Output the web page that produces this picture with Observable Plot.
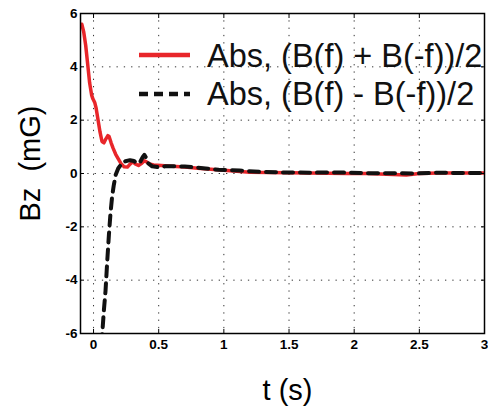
<!DOCTYPE html>
<html>
<head>
<meta charset="utf-8">
<script src="https://cdn.jsdelivr.net/npm/d3@7"></script>
<script src="https://cdn.jsdelivr.net/npm/@observablehq/plot@0.6"></script>
<style>
  html, body { margin: 0; padding: 0; background: #fff; }
  #chart { width: 488px; height: 408px; }
  svg { font-family: "Liberation Sans", Arial, sans-serif; }
  g[aria-label="x-axis tick label"] text, g[aria-label="y-axis tick label"] text { font-weight: bold !important; font-size: 13.5px !important; }
</style>
</head>
<body>
<div id="chart"></div>
<script>
// ---- data ----
const seriesNames = ["Abs, (B(f) + B(-f))/2", "Abs, (B(f) - B(-f))/2"];
const xLabel = "t (s)";
const yLabel = "Bz\u00a0\u00a0(mG)";
const xTicks = [0, 0.5, 1, 1.5, 2, 2.5, 3];
const yTicks = [-6, -4, -2, 0, 2, 4, 6];

const tPlus = [-0.09, -0.075, -0.06, -0.045, -0.03, -0.015, -0.005, 0.01, 0.02, 0.035, 0.05, 0.065, 0.08, 0.095, 0.11, 0.12, 0.135, 0.15, 0.17, 0.19, 0.21, 0.235, 0.26, 0.28, 0.3, 0.32, 0.345, 0.37, 0.39, 0.405, 0.43, 0.46, 0.52, 0.6, 0.7, 0.8, 0.9, 1.0, 1.1, 1.2, 1.35, 1.5, 1.65, 1.8, 1.95, 2.1, 2.25, 2.4, 2.5, 2.65, 2.8, 3.0];
const bPlus = [5.6, 5.3, 4.8, 4.1, 3.4, 2.95, 2.8, 2.65, 2.45, 2.0, 1.55, 1.2, 1.15, 1.3, 1.42, 1.38, 1.15, 0.95, 0.72, 0.55, 0.38, 0.25, 0.24, 0.35, 0.44, 0.36, 0.3, 0.38, 0.48, 0.44, 0.36, 0.32, 0.3, 0.27, 0.24, 0.2, 0.16, 0.12, 0.08, 0.05, 0.04, 0.03, 0.02, 0.01, 0.0, 0.0, -0.03, -0.06, 0.0, 0.02, 0.02, 0.02];

const tMinus = [0.06, 0.067, 0.08, 0.092, 0.105, 0.118, 0.13, 0.143, 0.155, 0.17, 0.19, 0.215, 0.245, 0.28, 0.31, 0.335, 0.36, 0.378, 0.39, 0.405, 0.42, 0.45, 0.49, 0.55, 0.63, 0.7, 0.78, 0.88, 0.96, 1.12, 1.28, 1.46, 1.66, 1.81, 1.97, 2.14, 2.3, 2.46, 2.63, 2.8, 2.96, 3.0];
const bMinus = [-6.4, -6.0, -5.1, -4.4, -3.3, -2.3, -1.5, -0.85, -0.45, -0.05, 0.2, 0.36, 0.46, 0.5, 0.47, 0.38, 0.45, 0.62, 0.7, 0.58, 0.38, 0.27, 0.24, 0.27, 0.27, 0.26, 0.23, 0.18, 0.14, 0.11, 0.06, 0.04, 0.03, 0.04, 0.03, 0.01, 0.01, 0.0, 0.03, 0.02, 0.02, 0.02];

const plusData = tPlus.map((t, i) => ({t, b: bPlus[i]}));
const minusData = tMinus.map((t, i) => ({t, b: bMinus[i]}));

const chart = Plot.plot({
  width: 488,
  height: 408,
  marginLeft: 80,
  marginRight: 4,
  marginTop: 13,
  marginBottom: 75,
  style: {fontFamily: "'Liberation Sans', Arial, sans-serif", background: "#fff", color: "#000"},
  x: {domain: [-0.1, 3]},
  y: {domain: [-6, 6]},
  marks: [
    Plot.gridX(xTicks, {stroke: "#333", strokeOpacity: 1, strokeDasharray: "1.3,6", strokeWidth: 1}),
    Plot.gridY(yTicks, {stroke: "#333", strokeOpacity: 1, strokeDasharray: "1.3,6", strokeWidth: 1}),
    Plot.line(plusData, {x: "t", y: "b", stroke: "#e8262a", strokeWidth: 3.5, clip: true}),
    Plot.line(minusData, {x: "t", y: "b", stroke: "#111", strokeWidth: 4, strokeDasharray: "10,7", clip: true}),
    Plot.axisX(xTicks, {anchor: "bottom", tickSize: -4, tickPadding: 10, tickFormat: d => String(d), label: null, fontSize: 13.5, fontWeight: "bold"}),
    Plot.axisX(xTicks, {anchor: "top", tickSize: -4, tickFormat: () => "", label: null}),
    Plot.axisY(yTicks, {anchor: "left", tickSize: -4, tickPadding: 7, tickFormat: d => String(d), label: null, fontSize: 13.5, fontWeight: "bold"}),
    Plot.axisY(yTicks, {anchor: "right", tickSize: -4, tickFormat: () => "", label: null}),
    Plot.frame({stroke: "#000", strokeWidth: 1.5}),
    Plot.text([yLabel], {text: d => d, frameAnchor: "left", dx: -50, dy: -10, rotate: -90, fontSize: 29, lineAnchor: "middle", textAnchor: "middle"}),
    Plot.text([xLabel], {text: d => d, frameAnchor: "bottom", dx: 5, dy: 57, fontSize: 29, lineAnchor: "middle", textAnchor: "middle"})
  ]
});

document.getElementById("chart").appendChild(chart);

// legend (inside plot area, top-right)
const svg = d3.select(chart);
const lg = svg.append("g").attr("class", "legend");
const legendRows = [
  {name: seriesNames[0], stroke: "#e8262a", dash: null, width: 4.5, y: 55, base: 67},
  {name: seriesNames[1], stroke: "#111", dash: "9,6", width: 4.5, y: 94, base: 105}
];
legendRows.forEach(r => {
  lg.append("line").attr("x1", 139).attr("x2", 190).attr("y1", r.y).attr("y2", r.y)
    .attr("stroke", r.stroke).attr("stroke-width", r.width).attr("stroke-dasharray", r.dash);
  lg.append("text").attr("x", 207).attr("y", r.base).attr("font-size", 32.5)
    .attr("text-anchor", "start").attr("fill", "#111").text(r.name);
});
</script>
</body>
</html>
